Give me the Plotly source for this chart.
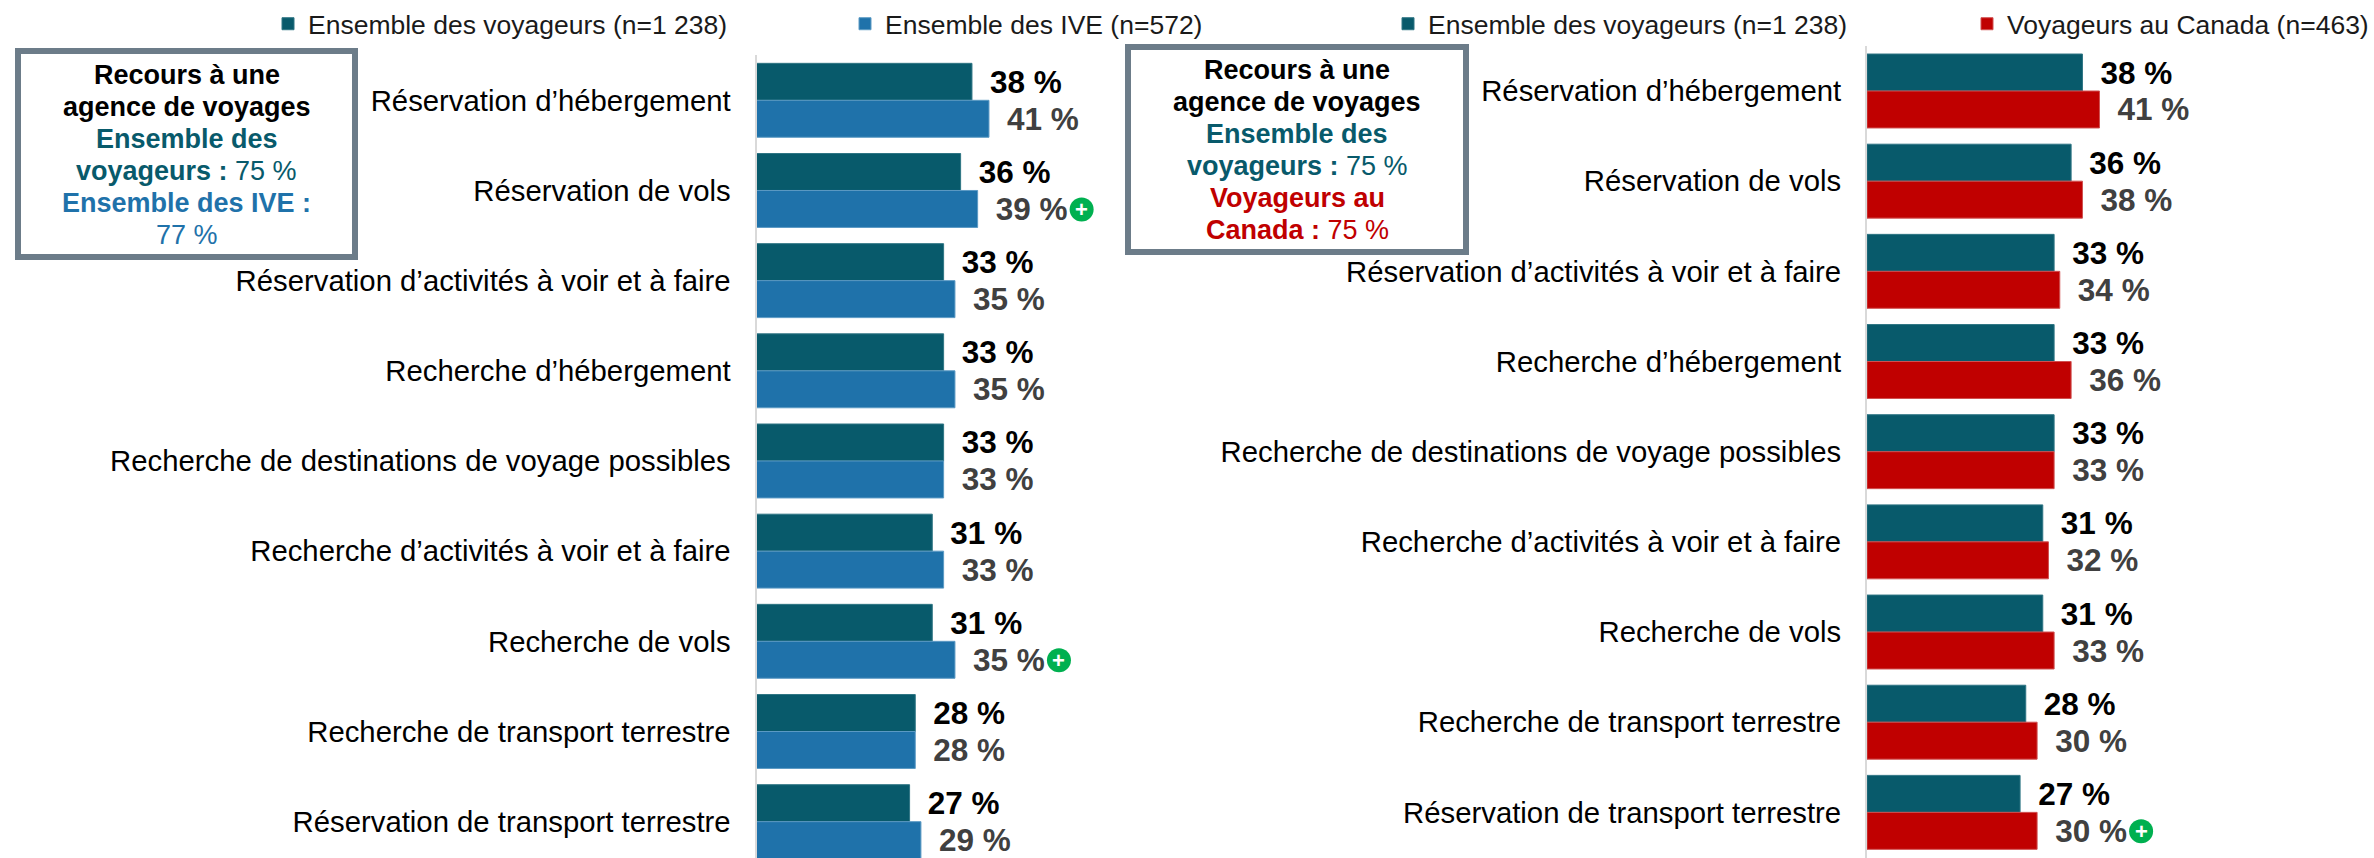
import plotly.graph_objects as go

W, H = 2374, 858
FONT = "Liberation Sans"

categories_left = ["Réservation d’hébergement", "Réservation de vols", "Réservation d’activités à voir et à faire",
                   "Recherche d’hébergement", "Recherche de destinations de voyage possibles",
                   "Recherche d’activités à voir et à faire", "Recherche de vols",
                   "Recherche de transport terrestre", "Réservation de transport terrestre"]
all_travellers = [38, 36, 33, 33, 33, 31, 31, 28, 27]
ive_travellers = [41, 39, 35, 35, 33, 33, 35, 28, 29]
canada_travellers = [41, 38, 34, 36, 33, 32, 33, 30, 30]
name_all = "Ensemble des voyageurs (n=1 238)"
name_ive = "Ensemble des IVE (n=572)"
name_canada = "Voyageurs au Canada (n=463)"
badges_ive = ["Réservation de vols", "Recherche de vols"]
badges_canada = ["Réservation de transport terrestre"]

TEAL, BLUE, RED = "#085A6B", "#1F72AA", "#C00000"
TEAL_EDGE, BLUE_EDGE, RED_EDGE = "#2F7584", "#5C9AC4", "#D05050"
SLATE = "#6C7C89"

box_left = [("Recours à une", "#000000", ""), ("agence de voyages", "#000000", ""),
            ("Ensemble des", TEAL, ""), ("voyageurs :", TEAL, " 75 %"),
            ("Ensemble des IVE :", BLUE, ""), ("", BLUE, "77 %")]
box_right = [("Recours à une", "#000000", ""), ("agence de voyages", "#000000", ""),
             ("Ensemble des", TEAL, ""), ("voyageurs :", TEAL, " 75 %"),
             ("Voyageurs au", RED, ""), ("Canada :", RED, " 75 %")]

PX_PER_PCT = 5.67
PITCH = 90.17
SPAN = 60


def bars(name, values, color, edge, txtcolor, xa, ya, legend):
    return go.Bar(name=name, y=categories_left, x=values, orientation="h", xaxis=xa, yaxis=ya, legend=legend,
                  marker=dict(color=color, line=dict(color=edge, width=1)),
                  text=[f"\u00a0\u2009{v}\u00a0%" for v in values], textposition="outside", cliponaxis=False,
                  textfont=dict(family=FONT, size=31.5, color=txtcolor, weight="bold"),
                  hoverinfo="x+y")


fig = go.Figure([
    bars(name_all, all_travellers, TEAL, TEAL_EDGE, "#000000", "x", "y", "legend"),
    bars(name_ive, ive_travellers, BLUE, BLUE_EDGE, "#404040", "x", "y", "legend2"),
    bars(name_all, all_travellers, TEAL, TEAL_EDGE, "#000000", "x2", "y2", "legend3"),
    bars(name_canada, canada_travellers, RED, RED_EDGE, "#404040", "x2", "y2", "legend4"),
])


def yaxis(anchor, top_px, first_center):
    bottom_row = 8 + (H - (first_center + 8 * PITCH)) / PITCH
    top_row = -(first_center - top_px) / PITCH
    return dict(anchor=anchor, domain=[0, 1 - top_px / H], range=[bottom_row, top_row], type="category",
                categoryorder="array", categoryarray=categories_left, showgrid=False, zeroline=False,
                showline=True, linecolor="#D9D9D9", linewidth=2, ticks="", ticklabelstandoff=18,
                tickfont=dict(family=FONT, size=29.3, color="#000000"), automargin=False)


def xaxis(anchor, left_px):
    return dict(anchor=anchor, domain=[left_px / W, (left_px + SPAN * PX_PER_PCT) / W], range=[0, SPAN],
                visible=False, fixedrange=True)


def legend(x_px, anchor="left"):
    return dict(orientation="h", x=x_px / W, xanchor=anchor, y=1, yanchor="top",
                traceorder="normal", itemclick=False,
                font=dict(family=FONT, size=26.5, color="#1A1A1A"), bgcolor="rgba(0,0,0,0)",
                itemwidth=30, tracegroupgap=0)


shapes, annotations = [], []


def callout(lines, x0, x1, y0, y1, first_line):
    shapes.append(dict(type="rect", xref="paper", yref="paper", x0=x0 / W, x1=x1 / W, y0=1 - y0 / H, y1=1 - y1 / H,
                       line=dict(color=SLATE, width=6), fillcolor="white", layer="above"))
    for i, (bold, color, rest) in enumerate(lines):
        parts = (f"<b>{bold}</b>" if bold else "") + rest
        annotations.append(dict(xref="paper", yref="paper", x=(x0 + x1) / 2 / W, y=1 - (first_line + 32 * i) / H,
                                text=parts, showarrow=False, xanchor="center", yanchor="middle",
                                font=dict(family=FONT, size=27, color=color)))


def badge(xref, yref, category, value):
    offset, drop = 104, 19
    shapes.append(dict(type="circle", xref=xref, yref=yref, xanchor=value, yanchor=category, xsizemode="pixel",
                       ysizemode="pixel", x0=offset - 12, x1=offset + 12, y0=-drop - 12, y1=-drop + 12,
                       fillcolor="#00B050", line=dict(width=0), layer="above"))
    annotations.append(dict(xref=xref, yref=yref, x=value, y=category, xshift=offset, yshift=-drop, text="<b>+</b>",
                            showarrow=False, font=dict(family=FONT, size=22, color="white")))


callout(box_left, 18, 355, 51, 257, 75)
callout(box_right, 1128, 1466, 47, 252, 70)
for c in badges_ive:
    badge("x", "y", c, ive_travellers[categories_left.index(c)])
for c in badges_canada:
    badge("x2", "y2", c, canada_travellers[categories_left.index(c)])

fig.update_layout(
    width=W, height=H, margin=dict(l=0, r=0, t=0, b=0), paper_bgcolor="white", plot_bgcolor="white",
    barmode="group", bargap=0.18, bargroupgap=0, showlegend=True,
    font=dict(family=FONT),
    xaxis=xaxis("y", 756.5), yaxis=yaxis("x", 55, 100.3),
    xaxis2=xaxis("y2", 1867), yaxis2=yaxis("x2", 45.6, 91),
    legend=legend(268), legend2=legend(845), legend3=legend(1388), legend4=legend(W, "right"),
    shapes=shapes, annotations=annotations,
)

fig.write_html("out.html", config={"displayModeBar": False},
               post_script="document.body.style.margin='0';document.documentElement.style.overflow='hidden';")
